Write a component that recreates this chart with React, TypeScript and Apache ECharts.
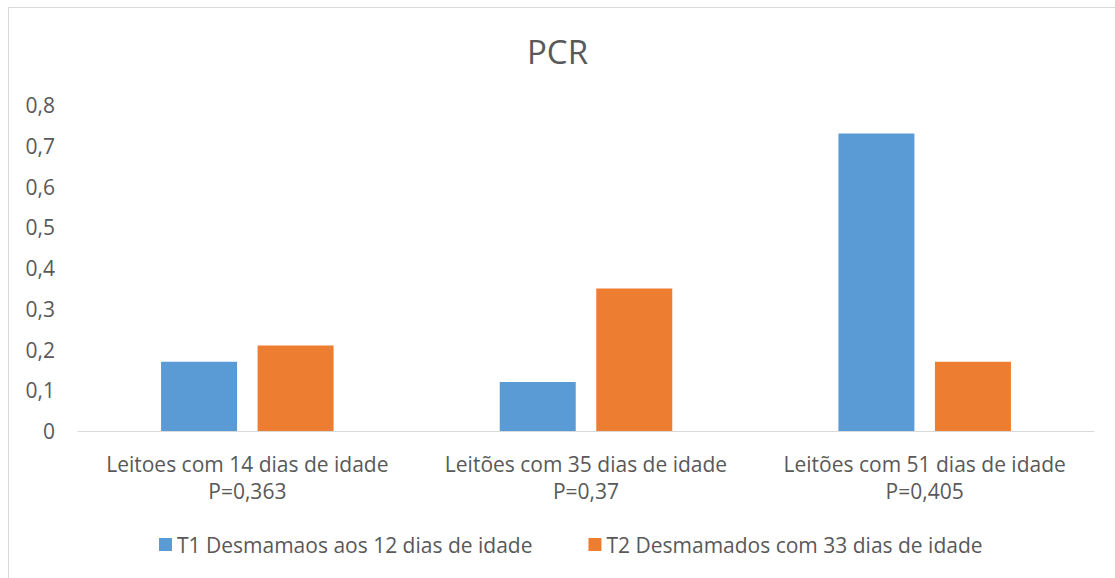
import React, { useEffect, useRef } from "react";
import * as echarts from "echarts";

const categories = [
  "Leitoes com 14 dias de idade\nP=0,363",
  "Leitões com 35 dias de idade\nP=0,37",
  "Leitões com 51 dias de idade\nP=0,405",
];
const seriesNames = [
  "T1 Desmamaos aos 12 dias de idade",
  "T2 Desmamados com 33 dias de idade",
];
const t1Values = [0.17, 0.12, 0.73];
const t2Values = [0.21, 0.35, 0.17];
const colors = ["#5B9BD5", "#ED7D31"];
const FONT = "'Open Sans', 'Noto Sans', sans-serif";

export default function App() {
  const ref = useRef<HTMLDivElement>(null);
  useEffect(() => {
    document.body.style.margin = "0";
    if (!ref.current) return;
    const chart = echarts.init(ref.current, null, { renderer: "svg" });
    chart.setOption({
      animation: false,
      backgroundColor: "#ffffff",
      textStyle: { fontFamily: FONT },
      title: {
        text: "PCR",
        left: "center",
        top: 30,
        itemGap: 0,
        textStyle: { fontFamily: FONT, fontSize: 33, fontWeight: "normal", color: "#595959" },
      },
      graphic: [
        {
          type: "rect",
          shape: { x: 8.5, y: 7.5, width: 1130, height: 580 },
          style: { fill: "none", stroke: "#D9D9D9", lineWidth: 1 },
          silent: true,
        },
      ],
      legend: {
        bottom: 18,
        left: 154,
        itemWidth: 13,
        itemHeight: 13,
        itemGap: 56,
        icon: "rect",
        textStyle: { fontFamily: FONT, fontSize: 21, color: "#595959", padding: [0, 0, 0, 0] },
        data: seriesNames,
      },
      grid: { left: 78, right: 21, top: 105, bottom: 147, containLabel: false },
      xAxis: {
        type: "category",
        data: categories,
        axisLine: { lineStyle: { color: "#D9D9D9", width: 1 } },
        axisTick: { show: false },
        axisLabel: {
          fontFamily: FONT,
          fontSize: 21,
          color: "#595959",
          lineHeight: 27,
          margin: 19,
          interval: 0,
        },
      },
      yAxis: {
        type: "value",
        min: 0,
        max: 0.8,
        interval: 0.1,
        splitLine: { show: false },
        axisLine: { show: false },
        axisTick: { show: false },
        axisLabel: {
          fontFamily: FONT,
          fontSize: 21,
          color: "#595959",
          margin: 23,
          formatter: (v: number) => (Math.round(v * 10) / 10).toString().replace(".", ","),
        },
      },
      series: [
        {
          name: seriesNames[0],
          type: "bar",
          data: t1Values,
          barWidth: 76,
          barGap: "27%",
          itemStyle: { color: colors[0] },
        },
        {
          name: seriesNames[1],
          type: "bar",
          data: t2Values,
          barWidth: 76,
          barGap: "27%",
          itemStyle: { color: colors[1] },
        },
      ],
    });
    return () => chart.dispose();
  }, []);
  return <div ref={ref} style={{ width: 1115, height: 578 }} />;
}
